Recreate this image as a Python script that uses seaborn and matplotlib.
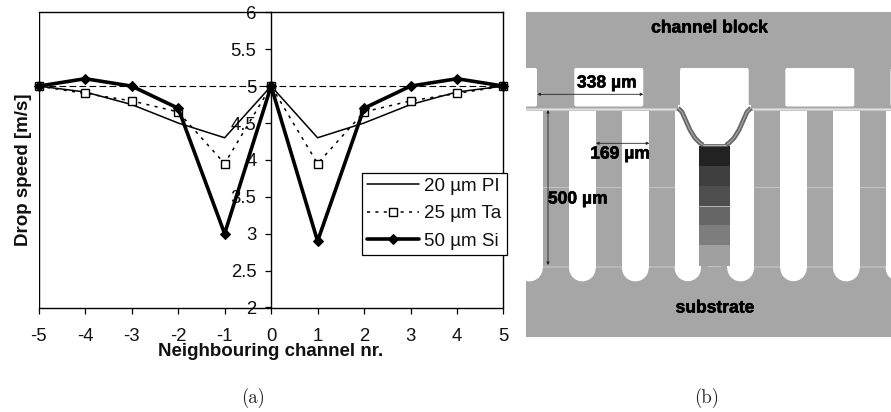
import matplotlib
matplotlib.use("Agg")
import matplotlib.pyplot as plt
import matplotlib.patheffects as pe
from matplotlib.patches import Rectangle, Circle, FancyBboxPatch
import seaborn as sns

channels = [-5, -4, -3, -2, -1, 0, 1, 2, 3, 4, 5]
pi_20 = [5, 4.92, 4.75, 4.5, 4.3, 5, 4.3, 4.5, 4.75, 4.92, 5]
ta_25 = [5, 4.9, 4.8, 4.65, 3.95, 5, 3.95, 4.65, 4.8, 4.9, 5]
si_50 = [5, 5.1, 5, 4.7, 3, 5, 2.9, 4.7, 5, 5.1, 5]
baseline = [5] * 11
y_ticks = [2, 2.5, 3, 3.5, 4, 4.5, 5, 5.5, 6]
y_tick_labels = ["2", "2.5", "3", "3.5", "4", "4.5", "5", "5.5", "6"]

# Schematic geometry of panel (b), in picture pixels
upper_cavities = [(515, 537), (574.3, 643.3), (680, 748.7), (785.3, 854.3), (890.5, 900)]
lower_channels = [(516, 542.7), (569, 595.7), (622, 648.7), (674.7, 701),
                  (727.3, 754), (780.3, 806.7), (833, 859.7), (885.7, 912)]
band_edges = [146, 165.7, 185.7, 206, 225.3, 245, 266]
band_greys = ["#222222", "#3f3f3f", "#4f4f4f", "#666666", "#7d7d7d", "#a0a0a0"]

W, H = 891, 412
sns.set_theme(style="white")
plt.rcParams["font.family"] = ["Liberation Sans", "DejaVu Sans"]
plt.rcParams["axes.unicode_minus"] = False
plt.rcParams["axes.axisbelow"] = "line"

fig = plt.figure(figsize=(W / 100, H / 100), dpi=100, facecolor="white")


def box(l, t, r, b):
    return [l / W, 1 - b / H, (r - l) / W, (b - t) / H]


# ---------- panel (a)
ax = fig.add_axes(box(38.7, 12.3, 503.5, 307.5))
sns.lineplot(x=channels, y=baseline, ax=ax, color="black", lw=0.8, linestyle=(0, (6, 3)),
             errorbar=None, clip_on=False)
sns.lineplot(x=channels, y=pi_20, ax=ax, color="black", lw=1.1, errorbar=None,
             label="20 µm PI", clip_on=False)
sns.lineplot(x=channels, y=ta_25, ax=ax, color="black", lw=1.1, linestyle=(0, (2, 3.5)),
             marker="s", markersize=5.5, markerfacecolor="white", markeredgecolor="black",
             markeredgewidth=1.0, errorbar=None, label="25 µm Ta", clip_on=False)
sns.lineplot(x=channels, y=si_50, ax=ax, color="black", lw=2.6, marker="D", markersize=4.6,
             markerfacecolor="black", markeredgecolor="black", errorbar=None,
             label="50 µm Si", clip_on=False)
ax.set_xlim(-5, 5)
ax.set_ylim(2, 6)
ax.set_xticks(channels)
ax.set_xticklabels([str(c) for c in channels])
ax.set_yticks(y_ticks)
ax.set_yticklabels(y_tick_labels)
ax.spines["left"].set_position(("data", 0))
for s in ax.spines.values():
    s.set_visible(True)
    s.set_color("black")
    s.set_linewidth(1.0)
ax.axvline(-5, color="black", lw=1.0, zorder=1)
ax.tick_params(axis="both", which="major", direction="out", length=4.5, width=0.9,
               color="black", labelcolor="#111111", labelsize=13.3, left=True, bottom=True)
ax.tick_params(axis="x", pad=10)
ax.tick_params(axis="y", pad=6)
fig.text(23.5 / W, 1 - 170 / H, "Drop speed [m/s]", rotation=90, ha="center", va="center",
         fontsize=13.5, fontweight="bold", color="#111111")
fig.text(270.5 / W, 1 - 351.5 / H, "Neighbouring channel nr.", ha="center", va="center",
         fontsize=13.5, fontweight="bold", color="#111111")
leg = ax.legend(loc="upper left", bbox_to_anchor=(362 / W, 1 - 172.5 / H),
                bbox_transform=fig.transFigure, frameon=True, fancybox=False, framealpha=1,
                edgecolor="black", facecolor="white", fontsize=13.5, borderaxespad=0,
                handlelength=2.75, handletextpad=0.3, labelspacing=0.55, borderpad=0.28,
                shadow=False)
leg.get_frame().set_linewidth(0.9)
leg.set_zorder(5)
for t in leg.get_texts():
    t.set_color("#111111")

# ---------- panel (b)
bx = fig.add_axes(box(526, 12, 891, 337))
bx.set_xlim(526, 891)
bx.set_ylim(337, 12)
bx.axis("off")
bx.add_patch(Rectangle((526, 12), 365, 325, fc="#a6a6a6", ec="none", zorder=0))
# faint horizontal lines in the grey pillars
for y, x0, x1 in [(187.3, 526, 675), (187.3, 754, 891)]:
    bx.plot([x0, x1], [y, y], color="#c4c4c4", lw=0.7, zorder=0.5)
for x0, x1 in [(526, 891)]:
    bx.plot([x0, x1], [266.5, 266.5], color="#c0c0c0", lw=1.1, zorder=0.5)
for l, r in upper_cavities:
    bx.add_patch(FancyBboxPatch((l + 1, 69), r - l - 2, 36.5,
                                boxstyle="round,pad=1,rounding_size=2",
                                fc="white", ec="none", zorder=1))
for l, r in lower_channels:
    rad = (r - l) / 2
    bx.add_patch(Rectangle((l, 110), r - l, 158, fc="white", ec="none", zorder=1))
    bx.add_patch(Circle(((l + r) / 2, 268), rad, fc="white", ec="none", zorder=1))
# cavity around the deflected membrane
bx.add_patch(Rectangle((678, 105), 73, 7, fc="white", ec="none", zorder=1))
bx.add_patch(Rectangle((700, 107), 29, 39, fc="white", ec="none", zorder=1))
# actuated pillar
for i, c in enumerate(band_greys):
    bx.add_patch(Rectangle((699.3, band_edges[i]), 30.4, band_edges[i + 1] - band_edges[i],
                           fc=c, ec="none", zorder=3))
bx.plot([699.3, 729.7], [206, 206], color="#c4c4c4", lw=0.6, zorder=4)
bx.add_patch(Rectangle((701, 266), 26.3, 4, fc="#a6a6a6", ec="none", zorder=3))
bx.plot([708, 720], [266, 266], color="#c0c0c0", lw=0.8, zorder=4)
# membrane
flat_left = ([526, 678], [108.5, 108.5])
flat_right = ([751, 891], [108.5, 108.5])
for xs, ys in (flat_left, flat_right):
    bx.plot(xs, ys, color="#c8c8c8", lw=2.2, zorder=4, solid_capstyle="butt")
    bx.plot(xs, ys, color="#e4e4e4", lw=0.6, zorder=4)
curve_x = [678, 682, 686, 690, 695, 700, 703]
curve_y = [108, 112, 121, 130, 138, 143, 145]
mirror = [1429 - v for v in curve_x]
for xs in (curve_x, mirror):
    bx.plot(xs, curve_y, color="#666666", lw=3.4, zorder=4, solid_capstyle="butt")
    bx.plot(xs, curve_y, color="#a8a8a8", lw=0.9, zorder=5)
bx.plot([703, 726], [145, 145], color="#666666", lw=2.0, zorder=5)
bx.plot([703, 726], [145, 145], color="#c0c0c0", lw=0.6, zorder=5)

# dimension arrows
for p0, p1 in [((537.3, 94.3), (643.3, 94.3)), ((596, 143.3), (649.3, 143.3)), ((548, 110), (548, 265))]:
    bx.annotate("", xy=p1, xytext=p0, zorder=6,
                arrowprops=dict(arrowstyle="<|-|>", color="#222222", lw=0.6,
                                mutation_scale=4, shrinkA=0, shrinkB=0))
halo = [pe.withStroke(linewidth=0.4, foreground="black")]
for txt, x, y in [("channel block", 709.3, 28), ("substrate", 715, 308), ("338 µm", 606.7, 83),
                  ("169 µm", 620, 154), ("500 µm", 577.7, 199)]:
    bx.text(x, y, txt, ha="center", va="center", fontsize=12.6, fontweight="bold", color="black",
            zorder=7, path_effects=halo)

# captions
for txt, x in [("(a)", 253.5), ("(b)", 707)]:
    fig.text(x / W, 1 - 397.5 / H, txt, ha="center", va="center", fontsize=13.5,
             family="cmr10", color="#222222")

fig.savefig("out.png", dpi=100, facecolor="white")
